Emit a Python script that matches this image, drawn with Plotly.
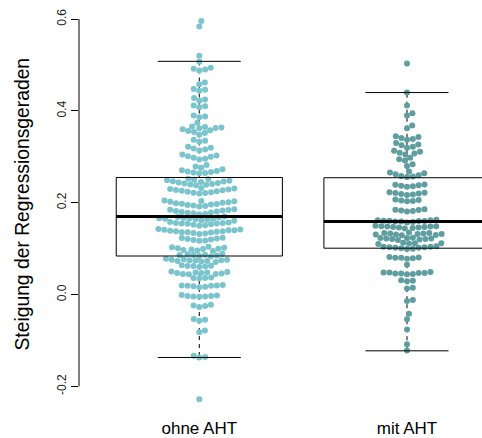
import math
import plotly.graph_objects as go

# ---------------- data ----------------
categories = ["ohne AHT", "mit AHT"]

ohne_aht = [
    0.596, 0.584, 0.520, 0.507,
    0.494, 0.492, 0.490, 0.488,
    0.462, 0.458,
    0.448, 0.446, 0.444,
    0.428, 0.425, 0.422,
    0.412, 0.410, 0.408,
    0.390, 0.388, 0.386,
    0.374,
    0.366, 0.365, 0.364, 0.363, 0.362, 0.360, 0.358, 0.356, 0.354, 0.352,
    0.348,
    0.337, 0.335, 0.333,
    0.322, 0.320, 0.318, 0.316, 0.314,
    0.305, 0.303, 0.301, 0.300, 0.298, 0.296, 0.294,
    0.282, 0.279, 0.276, 0.273, 0.271, 0.269, 0.268, 0.267, 0.266, 0.265, 0.264,
    0.252, 0.251, 0.250, 0.249, 0.248, 0.247, 0.246, 0.245, 0.244, 0.243, 0.242, 0.241, 0.240, 0.239, 0.238,
    0.232, 0.231, 0.230, 0.229, 0.228, 0.227, 0.226, 0.225, 0.224, 0.223, 0.222, 0.221, 0.220,
    0.205, 0.204, 0.203, 0.202, 0.201, 0.200, 0.199, 0.198, 0.197, 0.196, 0.195, 0.194, 0.193, 0.192,
    0.186, 0.185, 0.184, 0.183, 0.182, 0.181, 0.180, 0.179, 0.178, 0.177, 0.176, 0.175,
    0.170, 0.169, 0.168, 0.167, 0.166, 0.166, 0.165, 0.165, 0.164, 0.163, 0.162, 0.161,
    0.158, 0.157, 0.156, 0.156, 0.155, 0.155, 0.154, 0.153, 0.152, 0.151, 0.150,
    0.143, 0.142, 0.141, 0.140, 0.140, 0.139, 0.138, 0.138, 0.137, 0.136, 0.136, 0.135, 0.134, 0.133, 0.132,
    0.124, 0.123, 0.122, 0.121, 0.120, 0.119, 0.118, 0.117,
    0.104, 0.103, 0.102, 0.101, 0.100, 0.099, 0.098, 0.097, 0.096, 0.095,
    0.089, 0.088, 0.087, 0.086, 0.086, 0.085, 0.084, 0.083,
    0.078, 0.077, 0.076, 0.076, 0.075, 0.075, 0.074, 0.073, 0.073, 0.072, 0.071,
    0.064, 0.063, 0.062, 0.062, 0.061, 0.060,
    0.050, 0.049, 0.048, 0.048, 0.047, 0.047, 0.046, 0.045, 0.045, 0.044,
    0.037, 0.036, 0.036, 0.035,
    0.021, 0.020, 0.020, 0.019, 0.019, 0.018, 0.017, 0.016,
    -0.001, -0.002, -0.003, -0.003, -0.004, -0.004, -0.005,
    -0.022, -0.024, -0.025, -0.027,
    -0.053, -0.055, -0.057,
    -0.078, -0.082,
    -0.133, -0.136, -0.137,
    -0.228,
]

mit_aht = [
    0.503, 0.440, 0.412, 0.395, 0.390, 0.368, 0.362,
    0.345, 0.343, 0.341, 0.339, 0.337,
    0.330, 0.327, 0.325, 0.322, 0.320,
    0.313, 0.311, 0.309, 0.307, 0.305,
    0.298, 0.295, 0.292,
    0.284, 0.280,
    0.268, 0.266, 0.264, 0.262, 0.260, 0.258, 0.257, 0.256,
    0.240, 0.239, 0.238, 0.237, 0.236, 0.235,
    0.223, 0.222, 0.221, 0.220, 0.219, 0.218, 0.217,
    0.207, 0.206, 0.205, 0.204, 0.203,
    0.186, 0.185, 0.184, 0.183, 0.182, 0.181,
    0.163, 0.162, 0.162, 0.161, 0.161, 0.160, 0.160, 0.159, 0.159, 0.158, 0.157,
    0.150, 0.149, 0.149, 0.148, 0.148, 0.147, 0.147, 0.146, 0.146, 0.145, 0.144,
    0.135, 0.134, 0.134, 0.133, 0.133, 0.132, 0.132, 0.131, 0.131, 0.130, 0.129,
    0.124, 0.123, 0.123, 0.122, 0.122, 0.121, 0.121, 0.120, 0.119,
    0.113, 0.112, 0.112, 0.111, 0.110,
    0.105, 0.104, 0.104, 0.103, 0.103, 0.102, 0.102, 0.101, 0.100, 0.099,
    0.082, 0.081, 0.080, 0.080, 0.079, 0.078,
    0.065,
    0.049, 0.048, 0.048, 0.047, 0.047, 0.046, 0.046, 0.045, 0.044,
    0.031, 0.030, 0.029,
    0.015, 0.013,
    -0.012, -0.014,
    -0.042, -0.054, -0.076, -0.108, -0.122,
]

# box statistics (R boxplot)
q1 = [0.084, 0.101]
medians = [0.170, 0.159]
q3 = [0.255, 0.2545]
whisker_low = [-0.137, -0.1225]
whisker_high = [0.508, 0.440]

colors = ["#7AC5CD", "#5F9EA0"]

y_ticks = [-0.2, 0.0, 0.2, 0.4, 0.6]
y_tick_labels = ["-0.2", "0.0", "0.2", "0.4", "0.6"]

# ---------------- layout geometry ----------------
W, H = 482, 438
ML, MR, MT, MB = 79, 0, 6, 21
plot_w = W - ML - MR
plot_h = H - MT - MB
x_unit = 207.7            # px per category unit
x0 = 1 - (199.3 - ML) / x_unit
x_range = [x0, x0 + plot_w / x_unit]
y_range = [-0.2601, 0.6285]
y_unit = plot_h / (y_range[1] - y_range[0])   # px per data unit

DOT = 5.9   # px spacing of swarm


def swarm(vals, d):
    order = sorted(range(len(vals)), key=lambda i: vals[i])
    placed = []
    xs = [0.0] * len(vals)
    for i in order:
        y = vals[i] * y_unit
        near = [(px, py) for px, py in placed if abs(py - y) < d]
        cands = [0.0]
        for px, py in near:
            dx = math.sqrt(max(d * d - (py - y) ** 2, 0.0))
            cands += [px + dx, px - dx]
        cands.sort(key=lambda c: (abs(c), -c))
        for c in cands:
            if all((c - px) ** 2 + (y - py) ** 2 >= d * d - 1e-6 for px, py in near):
                xs[i] = c
                break
        placed.append((xs[i], y))
    return [x / x_unit for x in xs]


fig = go.Figure()
for k, vals in enumerate([ohne_aht, mit_aht]):
    offs = swarm(vals, DOT)
    fig.add_trace(go.Scatter(
        x=[k + 1 + o for o in offs], y=vals, mode="markers",
        marker=dict(size=6, color=colors[k], line=dict(width=0)),
        hoverinfo="y", showlegend=False, cliponaxis=False,
    ))

shapes = []
bw = 0.4
cap = 0.2
for k in range(2):
    c = k + 1
    line1 = dict(color="black", width=1)
    dashed = dict(color="black", width=1, dash="4px,4px")
    # whiskers sit beneath the points
    shapes.append(dict(type="line", xref="x", yref="y", x0=c, x1=c, y0=q3[k], y1=whisker_high[k],
                       line=dashed, layer="below"))
    shapes.append(dict(type="line", xref="x", yref="y", x0=c, x1=c, y0=q1[k], y1=whisker_low[k],
                       line=dashed, layer="below"))
    shapes.append(dict(type="rect", xref="x", yref="y", x0=c - bw, x1=c + bw,
                       y0=q1[k], y1=q3[k], line=line1, fillcolor="rgba(0,0,0,0)", layer="above"))
    shapes.append(dict(type="line", xref="x", yref="y", x0=c - bw, x1=c + bw,
                       y0=medians[k], y1=medians[k], line=dict(color="black", width=3), layer="above"))
    shapes.append(dict(type="line", xref="x", yref="y", x0=c - cap, x1=c + cap,
                       y0=whisker_high[k], y1=whisker_high[k], line=line1, layer="above"))
    shapes.append(dict(type="line", xref="x", yref="y", x0=c - cap, x1=c + cap,
                       y0=whisker_low[k], y1=whisker_low[k], line=line1, layer="above"))

# R-style y axis line spanning first to last tick
shapes.append(dict(type="line", xref="paper", yref="y", x0=0, x1=0,
                   y0=y_ticks[0], y1=y_ticks[-1], line=dict(color="black", width=1), layer="above"))

FONT = "Liberation Sans, Arial, Helvetica, sans-serif"

fig.update_layout(
    width=W, height=H,
    margin=dict(l=ML, r=MR, t=MT, b=MB),
    paper_bgcolor="white", plot_bgcolor="white",
    font=dict(family=FONT, color="black"),
    shapes=shapes,
    xaxis=dict(range=x_range, tickvals=[1, 2], ticktext=categories, ticks="",
               showgrid=False, zeroline=False, showline=False,
               tickfont=dict(size=17, color="black"), ticklabelstandoff=2),
    yaxis=dict(range=y_range, tickvals=y_ticks, ticktext=y_tick_labels,
               ticks="outside", ticklen=7, tickwidth=1, tickcolor="black",
               tickangle=-90, showgrid=False, zeroline=False, showline=False,
               tickfont=dict(size=12, color="#222")),
    annotations=[dict(text="Steigung der Regressionsgeraden", textangle=-90,
                      xref="paper", yref="paper",
                      x=(23 - ML) / plot_w, y=(H - MB - 206) / plot_h,
                      xanchor="center", yanchor="middle", showarrow=False,
                      font=dict(size=19.3, color="black", family=FONT))],
)

fig.write_html("out.html")
